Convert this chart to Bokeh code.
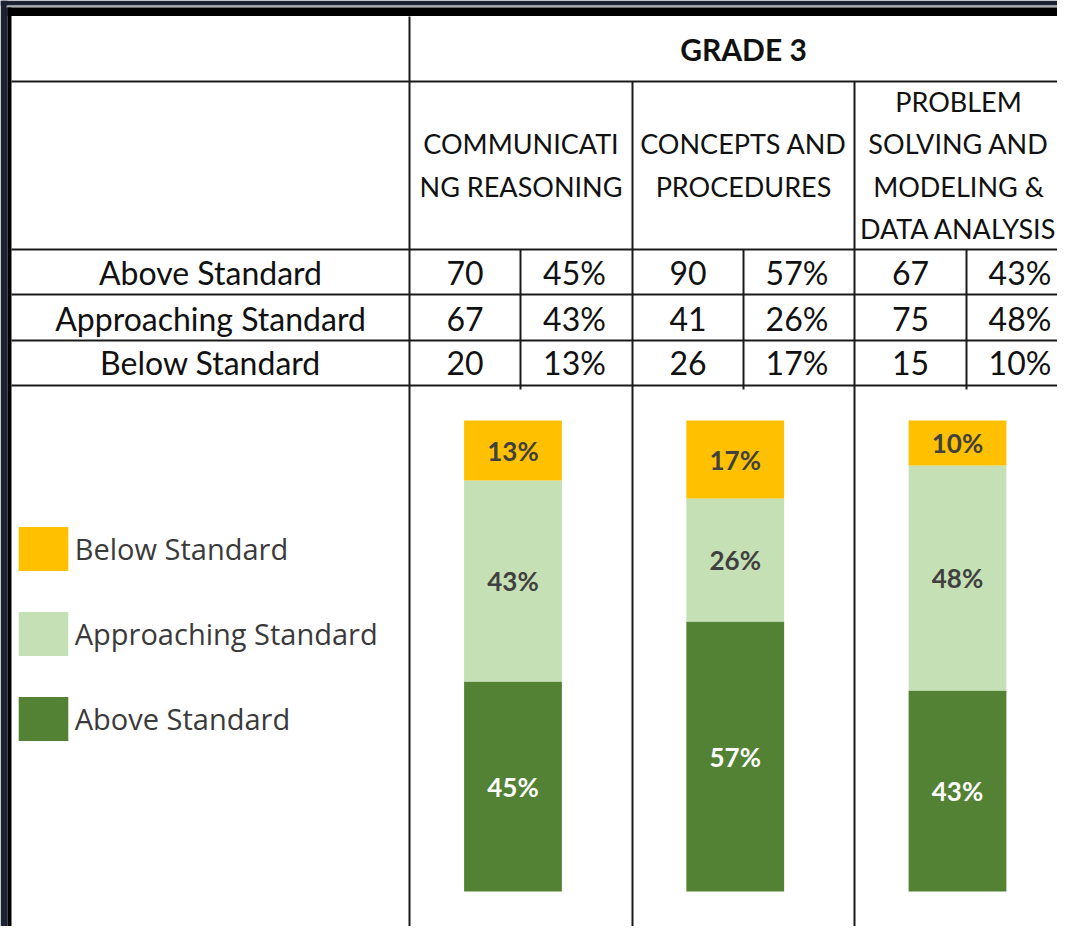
from bokeh.plotting import figure
from bokeh.models import Range1d, ColumnDataSource, Legend, LegendItem
from bokeh.core.properties import value
from bokeh.embed import file_html
from bokeh.resources import INLINE

# ---------------- data ----------------
grade_title = "GRADE 3"
claim_headers = [
    ["COMMUNICATI", "NG REASONING"],
    ["CONCEPTS AND", "PROCEDURES"],
    ["PROBLEM", "SOLVING AND", "MODELING &", "DATA ANALYSIS"],
]
levels = ["Above Standard", "Approaching Standard", "Below Standard"]
above_n = [70, 90, 67]
approaching_n = [67, 41, 75]
below_n = [20, 26, 15]
above_pct = ["45%", "57%", "43%"]
approaching_pct = ["43%", "26%", "48%"]
below_pct = ["13%", "17%", "10%"]

# ---------------- style / layout ----------------
C_ABOVE, C_APPR, C_BELOW = "#548235", "#C5E0B4", "#FFC000"
LINE = "#1a1a1a"
TFONT = value("Lato")
LFONT = value("Lato")

W, H = 1057, 926
p = figure(width=W, height=H, x_range=Range1d(0, W), y_range=Range1d(H, 0),
           x_axis_location=None, y_axis_location=None, min_border=0,
           toolbar_location=None, output_backend="svg")
p.grid.visible = False
p.outline_line_color = None
p.background_fill_color = "white"
p.border_fill_color = "white"

# dark surround and black frame edges
p.quad(left=[0, 0], right=[W, 7], top=[0, 0], bottom=[5, H], color="#1c2232", line_color=None)
p.quad(left=[6], right=[W], top=[5], bottom=[7], color="#a8abb0", line_color=None)
p.quad(left=[7, 7], right=[W, 11], top=[7, 7], bottom=[15.5, H], color="black", line_color=None)

# table grid
col_edges = [409, 520, 632, 743, 854, 966, 1077]
row_lines = [81, 249, 294, 340, 385]
p.segment(x0=[11] * len(row_lines), x1=[W] * len(row_lines), y0=row_lines, y1=row_lines,
          line_color=LINE, line_width=2)
p.segment(x0=[409], x1=[409], y0=[16], y1=[H], line_color=LINE, line_width=2)
p.segment(x0=[632, 854], x1=[632, 854], y0=[81, 81], y1=[H, H], line_color=LINE, line_width=2)
p.segment(x0=[520, 743, 966], x1=[520, 743, 966], y0=[249] * 3, y1=[389] * 3,
          line_color=LINE, line_width=2)

# header texts
p.text(x=[743], y=[48], text=[grade_title], text_font=TFONT, text_font_style="bold",
       text_font_size="30px", text_align="center", text_baseline="middle", text_color="#111111")
group_centers = [520.5, 743, 958]
hx, hy, ht = [], [], []
for gi, lines in enumerate(claim_headers):
    ys = [143, 186] if len(lines) == 2 else [101, 143, 186, 228]
    for ln, yy in zip(lines, ys):
        hx.append(group_centers[gi]); hy.append(yy); ht.append(ln)
p.text(x=hx, y=hy, text=ht, text_font=TFONT, text_font_size="27px", text_align="center",
       text_baseline="middle", text_color="#111111")

# body rows
row_y = [272, 318, 362]
counts = [above_n, approaching_n, below_n]
pcts = [above_pct, approaching_pct, below_pct]
tx, ty, tt = [], [], []
for ri, lvl in enumerate(levels):
    tx.append(210); ty.append(row_y[ri]); tt.append(lvl)
    for gi in range(3):
        tx.append((col_edges[2 * gi] + col_edges[2 * gi + 1]) / 2); ty.append(row_y[ri]); tt.append(str(counts[ri][gi]))
        tx.append((col_edges[2 * gi + 1] + col_edges[2 * gi + 2]) / 2 - 2); ty.append(row_y[ri]); tt.append(pcts[ri][gi])
p.text(x=tx, y=ty, text=tt, text_font=TFONT, text_font_size="32px", text_align="center",
       text_baseline="middle", text_color="#111111")

# ---------------- stacked 100% bars (own ranges) ----------------
y0_px, y1_px = H - 891, H - 420          # share 0 and 1, pixels from bottom
k = y1_px - y0_px
p.extra_y_ranges = {"share": Range1d(-y0_px / k, (H - y0_px) / k)}
x0c, dx = 512.5, 222.25
p.extra_x_ranges = {"claim": Range1d(-x0c / dx, (W - x0c) / dx)}

totals = [a + b + c for a, b, c in zip(above_n, approaching_n, below_n)]
src = ColumnDataSource(dict(
    x=list(range(3)),
    above=[a / t for a, t in zip(above_n, totals)],
    approaching=[a / t for a, t in zip(approaching_n, totals)],
    below=[a / t for a, t in zip(below_n, totals)],
))
rs = p.vbar_stack(["above", "approaching", "below"], x="x", width=0.44, source=src,
                  color=[C_ABOVE, C_APPR, C_BELOW], line_color=None,
                  x_range_name="claim", y_range_name="share")

lx, ly, lt, lc = [], [], [], []
for i in range(3):
    a = src.data["above"][i]; b = src.data["approaching"][i]; c = src.data["below"][i]
    for mid, txt, col in ((a / 2, above_pct[i], "white"),
                          (a + b / 2, approaching_pct[i], "#404040"),
                          (a + b + c / 2, below_pct[i], "#404040")):
        lx.append(i); ly.append(mid); lt.append(txt); lc.append(col)
p.text(x=lx, y=ly, text=lt, text_color=lc, text_font=LFONT, text_font_style="bold",
       text_font_size="26px", text_align="center", text_baseline="middle",
       x_range_name="claim", y_range_name="share")

legend = Legend(items=[LegendItem(label=levels[2], renderers=[rs[2]]),
                       LegendItem(label=levels[1], renderers=[rs[1]]),
                       LegendItem(label=levels[0], renderers=[rs[0]])],
                location=(11.75, H - 745.5), glyph_width=62, glyph_height=55, spacing=30,
                label_standoff=1, padding=0, margin=0, border_line_color=None,
                background_fill_alpha=0, label_text_font="Open Sans", label_text_font_size="29px",
                label_text_color="#3a3a3a")
p.add_layout(legend)

open("out.html", "w").write(file_html(p, INLINE))
